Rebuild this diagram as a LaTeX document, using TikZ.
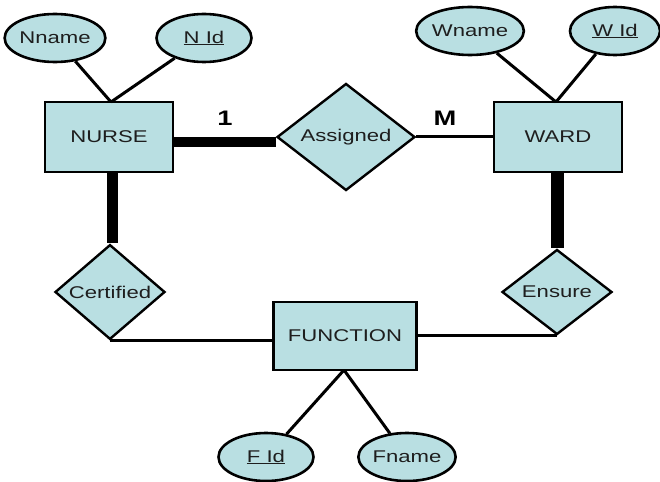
\documentclass[tikz,border=0pt]{standalone}
\usepackage{fontspec}
\setmainfont{Liberation Sans}[FakeStretch=1.3]
\usetikzlibrary{shapes.geometric}
\definecolor{erfill}{HTML}{B9DFE2}
\definecolor{ertext}{HTML}{1E1E1E}
\tikzset{
  every node/.style={font=\fontsize{17}{19}\selectfont, text=ertext},
  entity/.style={rectangle, draw=black, line width=2.4pt, fill=erfill, minimum width=128pt, minimum height=70pt, inner sep=0pt},
  rel/.style={diamond, draw=black, line width=2.4pt, fill=erfill, inner sep=0pt},
  attr/.style={ellipse, draw=black, line width=2.6pt, fill=erfill, minimum width=95pt, minimum height=48pt, inner sep=0pt},
  erlink/.style={line width=3pt},
  erheavy/.style={line width=10pt},
  card/.style={font=\fontsize{21}{24}\selectfont\bfseries, text=black}
}
\begin{document}
\begin{tikzpicture}[x=1pt,y=-1pt]
\useasboundingbox (0,0) rectangle (660,481);
% entities
\node[entity] (nurse) at (109,137) {NURSE};
\node[entity] (ward) at (558,137) {WARD};
\node[entity, minimum width=143pt, minimum height=68pt] (function) at (345,336) {FUNCTION};
% attributes
\node[attr] (nname) at (55,38) {Nname};
\node[attr] (nid) at (204,38) {\underline{N Id}};
\node[attr] (wname) at (470,31) {Wname};
\node[attr, minimum width=90pt] (wid) at (615,31) {\underline{W Id}};
\node[attr] (fid) at (266,457) {\underline{F Id}};
\node[attr] (fname) at (407,457) {Fname};
% coordinates for connector ends
\coordinate (nurseT) at (111,102);
\coordinate (wardT) at (556,102);
\coordinate (funcB) at (344,370);
% attribute links
\draw[erlink] (nname) -- (nurseT);
\draw[erlink] (nid) -- (nurseT);
\draw[erlink] (wname) -- (wardT);
\draw[erlink] (wid) -- (wardT);
\draw[erlink] (fid) -- (funcB);
\draw[erlink] (fname) -- (funcB);
% relationships
\node[rel, minimum width=138pt, minimum height=107pt] (assigned) at (346,137) {Assigned};
\node[rel, minimum width=110pt, minimum height=85pt] (certified) at (110,292) {Certified};
\node[rel, minimum width=110pt, minimum height=85pt] (ensure) at (557,292) {Ensure};
% relationship connectors
\draw[erheavy] (nurse.east |- 0,142) -- (assigned.west |- 0,142);
\draw[erlink] (assigned.east) -- (ward.west);
\draw[erheavy, line width=11pt] (nurse.south -| 112,0) -- (certified.north -| 112,0);
\draw[erheavy, line width=13pt] (ward.south -| 557,0) -- (ensure.north);
\draw[erlink] (certified.south) -- (certified.south -| function.west);
\draw[erlink] (function.east |- ensure.south) -- (ensure.south);
% cardinalities
\node[card] (one) at (225,118) {1};
\node[card] (many) at (445,118) {M};
\end{tikzpicture}
\end{document}
